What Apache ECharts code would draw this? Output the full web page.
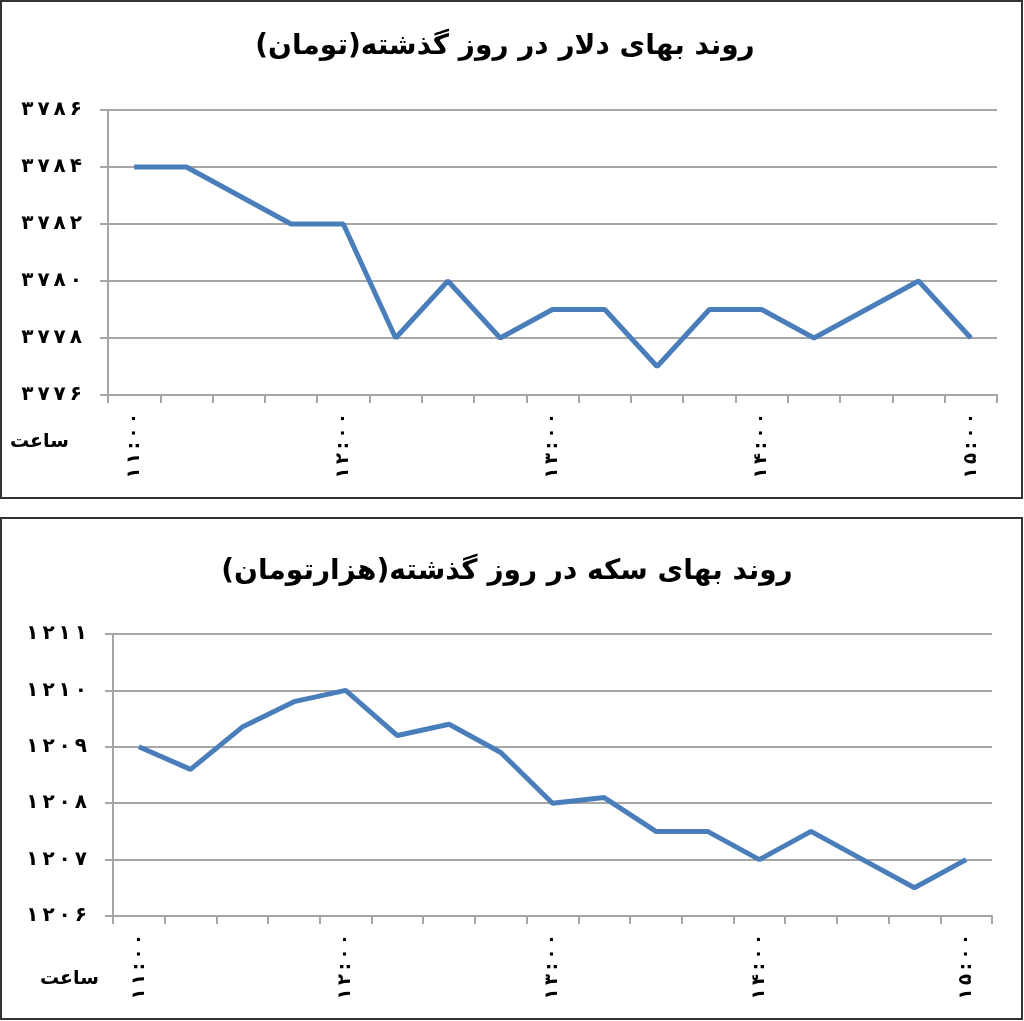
<!DOCTYPE html>
<html><head><meta charset="utf-8">
<script src="https://cdn.jsdelivr.net/npm/echarts@6/dist/echarts.min.js"></script>
<style>html,body{margin:0;padding:0;background:#fff}#c{width:1024px;height:1021px}</style>
</head><body><div id="c"></div>
<script>
const times = ['۱۱:۰۰','۱۱:۱۵','۱۱:۳۰','۱۱:۴۵','۱۲:۰۰','۱۲:۱۵','۱۲:۳۰','۱۲:۴۵','۱۳:۰۰','۱۳:۱۵','۱۳:۳۰','۱۳:۴۵','۱۴:۰۰','۱۴:۱۵','۱۴:۳۰','۱۴:۴۵','۱۵:۰۰'];
const dollar = [3784,3784,3783,3782,3782,3778,3780,3778,3779,3779,3777,3779,3779,3778,3779,3780,3778];
const coin = [1209.0,1208.6,1209.35,1209.8,1210.0,1209.2,1209.4,1208.9,1208.0,1208.1,1207.5,1207.5,1207.0,1207.5,1207.0,1206.5,1207.0];
const title1 = 'روند بهای دلار در روز گذشته(تومان)';
const title2 = 'روند بهای سکه در روز گذشته(هزارتومان)';
const xName = 'ساعت';

const fa = s => String(s).replace(/[0-9]/g, d => '۰۱۲۳۴۵۶۷۸۹'[d]);
const spaced = s => Array.from(String(s)).join('\u2009');
const FONT = '"DejaVu Sans", sans-serif';
const gridColor = '#a6a6a6';
const lineColor = '#4a7ebb';

function xAxis(gi){
  return {type:'category', gridIndex:gi, data:times, boundaryGap:true,
    axisLine:{lineStyle:{color:gridColor,width:2}},
    axisTick:{show:true,interval:0,length:8,lineStyle:{color:gridColor,width:2}},
    axisLabel:{interval:3,rotate:90,margin:18,color:'#000',fontFamily:FONT,fontWeight:'bold',fontSize:18,
      formatter:v=>spaced(v)},
    splitLine:{show:false}};
}
function yAxis(gi,min,max,interval){
  return {type:'value', gridIndex:gi, min:min, max:max, interval:interval,
    axisLine:{show:true,lineStyle:{color:gridColor,width:2}},
    axisTick:{show:true,length:8,lineStyle:{color:gridColor,width:2}},
    axisLabel:{margin:26,color:'#000',fontFamily:FONT,fontWeight:'bold',fontSize:20,
      formatter:v=>spaced(fa(Math.round(v)))},
    splitLine:{show:true,lineStyle:{color:gridColor,width:2}}};
}
const chart = echarts.init(document.getElementById('c'));
chart.setOption({
  animation:false,
  backgroundColor:'#fff',
  title:[
    {text:title1,left:500,textAlign:'center',top:28,textStyle:{fontFamily:FONT,fontWeight:'bold',fontSize:28,color:'#000'}},
    {text:title2,left:502,textAlign:'center',top:553,textStyle:{fontFamily:FONT,fontWeight:'bold',fontSize:28,color:'#000'}}
  ],
  graphic:[
    {type:'rect',shape:{x:1,y:1,width:1021,height:497},style:{fill:'none',stroke:'#333',lineWidth:2}},
    {type:'rect',shape:{x:1,y:518,width:1021,height:501},style:{fill:'none',stroke:'#333',lineWidth:2}},
    {type:'text',left:10,top:433,style:{text:xName,font:'bold 19px '+FONT,fill:'#000'}},
    {type:'text',left:40,top:970,style:{text:xName,font:'bold 19px '+FONT,fill:'#000'}}
  ],
  grid:[
    {left:108,width:889,top:110,height:285},
    {left:113,width:879,top:634,height:282}
  ],
  xAxis:[xAxis(0),xAxis(1)],
  yAxis:[yAxis(0,3776,3786,2),yAxis(1,1206,1211,1)],
  series:[
    {type:'line',xAxisIndex:0,yAxisIndex:0,data:dollar,symbol:'none',lineStyle:{color:lineColor,width:5}},
    {type:'line',xAxisIndex:1,yAxisIndex:1,data:coin,symbol:'none',lineStyle:{color:lineColor,width:5}}
  ]
});
</script></body></html>
